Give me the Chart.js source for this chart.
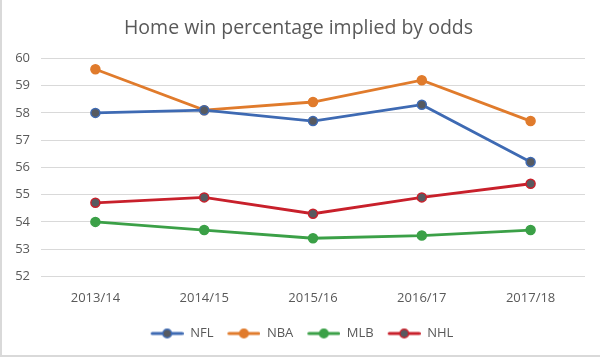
<!DOCTYPE html>
<html>
<head>
<meta charset="utf-8">
<script src="https://cdn.jsdelivr.net/npm/chart.js@4/dist/chart.umd.min.js"></script>
<style>
  html, body { margin: 0; padding: 0; background: #fff; }
  #wrap { position: relative; width: 600px; height: 357px; box-sizing: border-box;
          border-left: 2px solid #d9d9d9; border-bottom: 2px solid #d9d9d9; }
  canvas { display: block; }
</style>
</head>
<body>
<div id="wrap"><canvas id="c" width="598" height="355"></canvas></div>
<script>
const seasons = ["2013/14", "2014/15", "2015/16", "2016/17", "2017/18"];
const nfl = [58.0, 58.1, 57.7, 58.3, 56.2];
const nba = [59.6, 58.1, 58.4, 59.2, 57.7];
const mlb = [54.0, 53.7, 53.4, 53.5, 53.7];
const nhl = [54.7, 54.9, 54.3, 54.9, 55.4];
const yTicks = [52, 53, 54, 55, 56, 57, 58, 59, 60];

const FONT = "'Open Sans', 'Liberation Sans', sans-serif";
const TXT = "#595959";
const ICON_W = 33;
const LEAD = 7;

function legendIcon(color, fill) {
  const cv = document.createElement('canvas');
  cv.width = ICON_W + LEAD; cv.height = 12;
  const g = cv.getContext('2d');
  g.translate(LEAD, 0);
  g.strokeStyle = color; g.lineWidth = 3; g.lineCap = 'round';
  g.beginPath(); g.moveTo(1.5, 6); g.lineTo(ICON_W - 1.5, 6); g.stroke();
  g.beginPath(); g.arc(ICON_W / 2, 6, 4.3, 0, Math.PI * 2);
  g.fillStyle = fill; g.fill();
  g.lineWidth = 1.5; g.strokeStyle = color; g.stroke();
  return cv;
}

function ds(label, data, color, fill) {
  return {
    label, data,
    borderColor: color, backgroundColor: fill,
    pointBackgroundColor: fill, pointBorderColor: color,
    pointBorderWidth: 1.5, pointRadius: 4.5, pointHoverRadius: 4.5,
    borderWidth: 2.8, tension: 0, fill: false,
    icon: legendIcon(color, fill)
  };
}

const datasets = [
  ds("NFL", nfl, "#3E6AB3", "#575a60"),
  ds("NBA", nba, "#E07B2C", "#E07B2C"),
  ds("MLB", mlb, "#3BA047", "#3BA047"),
  ds("NHL", nhl, "#C8202B", "#575a60")
];

new Chart(document.getElementById('c'), {
  type: 'line',
  data: { labels: seasons, datasets },
  options: {
    responsive: false, animation: false,
    devicePixelRatio: 1,
    layout: { padding: { left: 10, right: 15, top: 8, bottom: 5 } },
    plugins: {
      tooltip: { enabled: false },
      title: {
        display: true, text: "Home win percentage implied by odds",
        color: TXT, font: { family: FONT, size: 19.5, weight: 'normal' },
        padding: { top: 9, bottom: 18 }
      },
      legend: {
        position: 'bottom',
        labels: {
          color: TXT, font: { family: FONT, size: 13 },
          usePointStyle: true, pointStyleWidth: ICON_W + LEAD, boxHeight: 12,
          padding: 7,
          generateLabels(chart) {
            return chart.data.datasets.map((d, i) => ({
              text: d.label, fontColor: TXT, pointStyle: d.icon,
              lineWidth: 0, strokeStyle: 'transparent', fillStyle: 'transparent',
              datasetIndex: i, hidden: false
            }));
          }
        }
      }
    },
    scales: {
      x: {
        offset: true,
        grid: { display: false, drawTicks: false },
        border: { display: false },
        ticks: { color: TXT, font: { family: FONT, size: 13 }, padding: 14, maxRotation: 0 }
      },
      y: {
        min: 52, max: 60,
        afterBuildTicks(scale) { scale.ticks = yTicks.map(v => ({ value: v })); },
        afterFit(scale) { scale.width = 29; },
        grid: { color: "#d9d9d9", lineWidth: 1, drawTicks: false },
        border: { display: false },
        ticks: { color: TXT, font: { family: FONT, size: 13 }, padding: 11 }
      }
    }
  }
});
</script>
</body>
</html>
